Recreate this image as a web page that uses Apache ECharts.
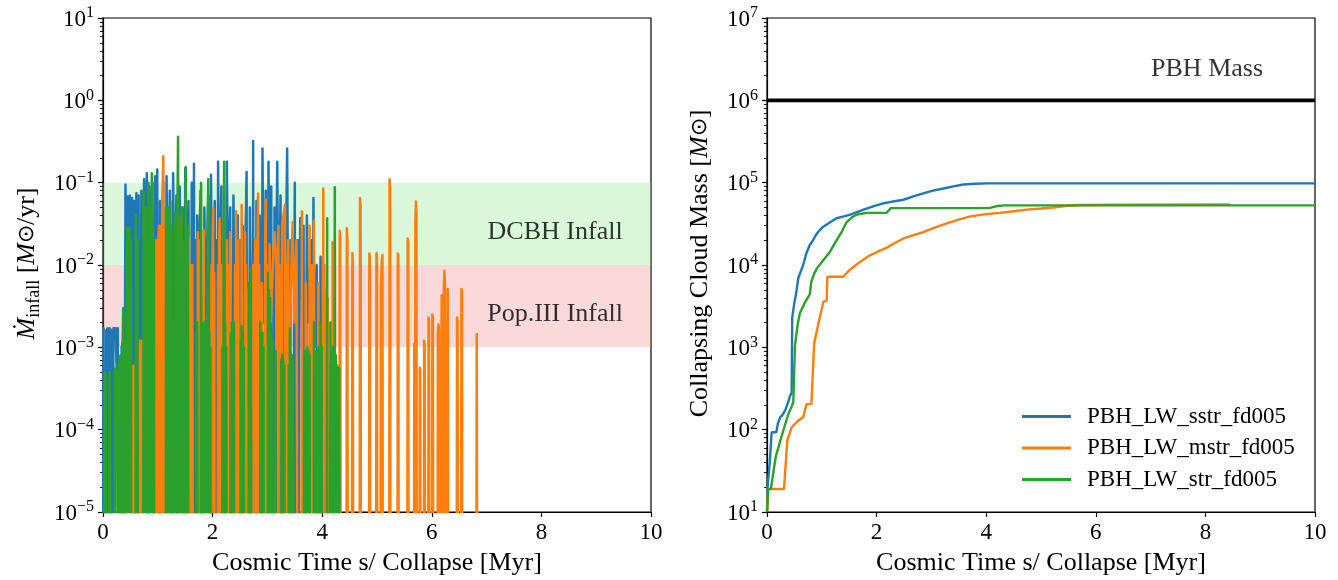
<!DOCTYPE html>
<html><head><meta charset="utf-8">
<script src="https://cdn.jsdelivr.net/npm/echarts@6/dist/echarts.min.js"></script>
<style>html,body{margin:0;padding:0;background:#fff}#c{width:1338px;height:580px}</style>
</head><body><div id="c"></div>
<script>
// ---------- data ----------
const seriesNames = ['PBH_LW_sstr_fd005', 'PBH_LW_mstr_fd005', 'PBH_LW_str_fd005'];
const seriesColors = ['#1f77b4', '#ff7f0e', '#2ca02c'];
const xTickValues = [0, 2, 4, 6, 8, 10];
const infallTickValues = [1e-5, 1e-4, 1e-3, 1e-2, 1e-1, 1, 10];
const massTickValues = [1e1, 1e2, 1e3, 1e4, 1e5, 1e6, 1e7];
const dcbhBand = [1e-2, 1e-1];
const pop3Band = [1e-3, 1e-2];
const pbhMass = 1e6;

// infall rate [Msun/yr] vs time [Myr]; 0 = no infall
const infallSstr = [[0,0],[0.01,1.7e-3],[0.03,1.7e-3],[0.04,0],[0.06,1.6e-3],[0.09,1.7e-3],[0.10,0],[0.12,1.7e-3],[0.15,1.6e-3],[0.17,0],[0.19,1.7e-3],[0.23,1.7e-3],[0.25,5e-4],[0.27,1.7e-3],[0.30,1.7e-3],[0.32,0],[0.34,1.0e-3],[0.37,1.2e-3],[0.39,0],
[0.40,5e-4],[0.41,0.095],[0.42,6e-4],[0.43,0.002],[0.44,5e-4],[0.45,0.068],[0.46,6e-4],[0.47,0.004],[0.48,5e-4],[0.49,0.07],[0.50,6e-4],[0.51,0.003],[0.52,5e-4],[0.53,0.065],[0.55,0],[0.57,0.06],[0.59,0.01],[0.61,0.075],[0.63,0.002],[0.65,0.07],[0.67,0],[0.70,0.08],[0.72,0.001],[0.75,0.11],[0.77,0.003],[0.80,0.13],[0.82,0],[0.85,0.09],[0.87,0.002],[0.90,0.1],[0.92,0],[0.95,0.12],[0.97,0.005],[0.99,0.145],[1.01,0],[1.04,0.06],[1.06,0.004],[1.10,0.1],[1.12,0],[1.16,0.12],[1.18,0.003],[1.22,0.08],[1.24,0],[1.28,0.13],[1.30,0.002],[1.34,0.07],[1.36,0],[1.40,0.09],[1.42,0.003],[1.46,0.05],[1.47,0],[1.48,0.01],[1.49,0],[1.50,0.15],[1.52,0.004],[1.56,0.06],[1.58,0],[1.62,0.1],[1.63,0],[1.64,0.01],[1.65,0],[1.66,0.17],[1.67,0],[1.68,0.02],[1.69,0],[1.72,0.04],[1.74,0.003],[1.78,0.08],[1.80,0],[1.85,0.05],[1.87,0.002],[1.92,0.07],[1.94,0],[1.97,0.125],[1.99,0.003],[2.04,0.06],[2.05,0],[2.06,0.01],[2.07,0],[2.08,0.02],[2.09,0],[2.10,0.18],[2.12,0.002],[2.16,0.09],[2.18,0],[2.26,0.18],[2.28,0.003],[2.32,0.05],[2.34,0],[2.38,0.07],[2.40,0.002],[2.46,0.04],[2.47,0],[2.48,0.01],[2.49,0],[2.50,0.02],[2.51,0],[2.55,0.03],[2.57,0.001],[2.62,0.135],[2.64,0],[2.68,0.05],[2.70,0.002],[2.71,0],[2.72,0.01],[2.73,0],[2.74,0.32],[2.75,0],[2.76,0.02],[2.77,0],[2.78,0.01],[2.79,0],[2.80,0.06],[2.82,0.003],[2.86,0.04],[2.88,0],[2.91,0.26],[2.93,0.002],[2.97,0.08],[2.99,0],[3.02,0.18],[3.04,0.003],[3.07,0.09],[3.09,0],[3.13,0.05],[3.15,0.001],[3.18,0.18],[3.20,0.0008],[3.24,0.07],[3.26,0],[3.30,0.04],[3.32,0.001],[3.36,0.26],[3.38,0.0008],[3.42,0.02],[3.44,0],[3.50,0.1],[3.51,0],[3.52,0.01],[3.53,0],[3.54,0.02],[3.55,0],[3.56,0.02],[3.57,0],[3.58,0.0009],[3.60,0.037],[3.62,0.004],[3.66,0.03],[3.68,0],[3.72,0.04],[3.74,0.002],[3.80,0.02],[3.82,0],[3.84,0.065],[3.86,0.001],[3.90,0.01],[3.92,0],[3.97,0.0126],[3.99,0],[4.10,0],[4.11,6e-4],[4.12,0]];

const infallMstr = [[0.36,0],[0.37,1.1e-3],[0.38,0],
[0.53,0],[0.54,6e-4],[0.55,0],[0.56,5e-4],[0.57,0],[0.58,6e-4],[0.59,0],
[0.64,0],[0.65,1.2e-3],[0.66,0],[0.67,1.2e-3],[0.68,0],[0.69,1e-3],[0.70,0],[0.71,1.2e-3],[0.72,0],
[0.81,0],[0.82,5e-4],[0.83,0],
[0.95,0],[0.96,0.01],[0.97,0.02],[0.98,0],[0.99,0.001],[1.00,0],[1.01,0.02],[1.02,0.03],[1.03,0],[1.04,0.01],[1.05,0],[1.06,0.03],[1.07,0],[1.08,0.05],[1.10,0.21],[1.11,0],[1.12,0.03],[1.13,0],[1.14,0.02],[1.15,0],
[1.17,0],[1.18,6e-4],[1.19,0],[1.27,0],[1.28,6e-4],[1.29,0],[1.34,0],[1.35,0.004],[1.36,0],[1.42,0],[1.43,0.037],[1.44,0],[1.49,0],[1.50,0.01],[1.51,0],
[1.56,0],[1.57,0.022],[1.58,0],[1.59,0.01],[1.60,0],[1.61,0.004],[1.62,0],[1.63,0.01],[1.64,0],
[1.72,0],[1.73,0.025],[1.74,0],[1.75,0.01],[1.76,0],[1.77,0.02],[1.78,0],[1.79,0.004],[1.80,0],[1.83,0],[1.84,0.0265],[1.85,0],
[1.97,0],[1.98,0.01],[1.99,0],[2.00,0.02],[2.01,0.049],[2.02,0],[2.03,0.008],[2.04,0],
[2.09,0],[2.10,0.01],[2.11,0],[2.12,0.02],[2.13,0.037],[2.14,0],[2.15,0.004],[2.16,0],[2.17,0.01],[2.18,0],
[2.25,0],[2.26,0.02],[2.27,0],[2.28,0.005],[2.29,0],[2.30,0.01],[2.31,0],[2.32,0.025],[2.33,0],
[2.40,0],[2.41,0.01],[2.42,0],[2.43,0.045],[2.44,0],[2.45,0.01],[2.46,0],[2.47,0.02],[2.48,0],[2.52,0],[2.53,0.054],[2.54,0],
[2.58,0],[2.59,0.025],[2.60,0],[2.61,0.01],[2.62,0],[2.63,0.005],[2.64,0],[2.65,0.003],[2.66,0],
[2.73,0],[2.74,0.01],[2.76,0.003],[2.78,0.02],[2.79,0],[2.80,0.01],[2.81,0],[2.82,0.02],[2.83,0.074],[2.84,0],[2.85,0.01],[2.86,0],
[2.89,0],[2.90,0.006],[2.91,0],[2.95,0],[2.96,0.02],[2.97,0.062],[2.98,0],[2.99,0.01],[3.00,0],
[3.03,0],[3.04,0.018],[3.06,0.002],[3.10,0.01],[3.13,0.025],[3.16,0.012],[3.17,0],[3.18,0.01],[3.19,0],[3.20,0.03],[3.21,0],[3.22,0.01],[3.23,0.01],[3.24,0],[3.27,0.03],[3.32,0.054],[3.33,0],[3.34,0.01],[3.35,0.004],[3.36,0],[3.37,0.01],[3.38,0.02],[3.39,0],[3.42,0.003],[3.46,0.033],[3.49,0.002],[3.53,0.02],[3.56,0],[3.62,0],[3.63,0.045],[3.64,0],
[3.69,0],[3.70,0.006],[3.72,0],[3.76,0],[3.77,0.03],[3.78,0],[3.79,0.01],[3.80,0],[3.81,0.005],[3.82,0],[3.83,0.01],[3.84,0],[3.85,0.035],[3.86,0],
[3.92,0],[3.93,0.006],[3.94,0],[4.01,0],[4.02,0.085],[4.03,0],[4.04,0.01],[4.05,0],[4.06,0.005],[4.07,0],
[4.09,0],[4.10,0.004],[4.11,0],[4.18,0],[4.19,0.019],[4.20,0],
[4.31,0],[4.32,0.026],[4.33,0.02],[4.34,0],
[4.44,0],[4.45,0.028],[4.46,0.02],[4.47,0],
[4.54,0],[4.55,0.014],[4.56,0.012],[4.57,0],
[4.68,0],[4.69,0.065],[4.70,0.05],[4.71,0],
[4.85,0],[4.86,0.0138],[4.87,0.013],[4.88,0],
[4.98,0],[4.99,0.014],[5.00,0.013],[5.01,0],
[5.06,0],[5.07,0.005],[5.09,0.012],[5.10,0.0132],[5.11,0],
[5.22,0],[5.23,0.11],[5.24,0.09],[5.25,0],
[5.37,0],[5.38,0.0138],[5.39,0.013],[5.40,0],
[5.55,0],[5.56,0.021],[5.57,0.019],[5.58,0],
[5.67,0],[5.68,1.1e-3],[5.69,0],[5.70,0.03],[5.71,0.059],[5.72,0.04],[5.73,0],
[5.77,0],[5.78,5.7e-4],[5.79,5e-4],[5.80,0],
[5.85,0],[5.86,1.2e-3],[5.87,1.1e-3],[5.88,0],
[5.93,0],[5.94,2.3e-3],[5.95,2.1e-3],[5.96,0],
[6.00,0],[6.01,2.5e-3],[6.02,2.3e-3],[6.03,0],
[6.10,0],[6.11,1.5e-3],[6.12,1.9e-3],[6.13,1.7e-3],[6.14,0],
[6.17,0],[6.18,4.3e-3],[6.19,4.3e-3],[6.20,0],[6.21,1e-3],[6.22,5e-3],[6.23,8.5e-3],[6.24,6e-3],[6.25,0],
[6.28,0],[6.29,5.1e-3],[6.30,5e-3],[6.31,0],
[6.45,0],[6.46,2.3e-3],[6.47,2.1e-3],[6.48,2e-3],[6.49,0],
[6.53,0],[6.54,5.1e-3],[6.55,4.8e-3],[6.56,0],
[6.81,0],[6.82,1.45e-3],[6.83,1.4e-3],[6.84,0]];

const infallStr = [[0,0],[0.02,0],[0.03,5e-4],[0.05,4.5e-4],[0.06,0],[0.10,0],[0.12,5e-4],[0.15,5e-4],[0.16,0],[0.20,0],[0.22,5.5e-4],[0.26,5e-4],[0.27,0],[0.29,6e-4],[0.32,8e-4],[0.33,0],[0.35,7e-4],[0.37,3e-3],[0.39,0],
[0.41,1.2e-3],[0.42,0],[0.43,0.01],[0.44,0.028],[0.45,0],[0.46,0.012],[0.47,0],[0.48,0.028],[0.49,0.015],[0.50,0],[0.51,0.02],[0.52,0],
[0.59,0],[0.60,0.04],[0.61,0.015],[0.62,0],[0.63,0.02],[0.64,0],
[0.73,0],[0.74,0.078],[0.75,0],[0.76,0.03],[0.77,0],[0.78,0.05],[0.79,0],[0.80,0.02],[0.81,0],[0.83,0.1],[0.84,0],[0.85,0.03],[0.86,0],[0.87,0.05],[0.88,0],[0.89,0.13],[0.90,0],[0.91,0.03],[0.92,0],[0.93,0.02],[0.94,0],
[1.14,0],[1.15,0.05],[1.16,0],[1.17,0.03],[1.18,0.05],[1.19,0],[1.20,0.04],[1.21,0],[1.23,0.06],[1.24,0],[1.25,0.03],[1.26,0],[1.28,0],[1.29,0.002],[1.30,0],[1.31,0.04],[1.32,0],[1.33,0.002],[1.34,0],[1.35,0.01],[1.37,0.36],[1.38,0],[1.39,0.04],[1.40,0],[1.43,0],[1.44,0.05],[1.45,0],[1.46,0.02],[1.47,0],[1.48,0.01],[1.49,0],[1.51,0.155],[1.52,0],[1.53,0.002],[1.54,0],[1.55,0.03],[1.56,0],
[1.69,0],[1.70,0.0015],[1.71,0],[1.72,0.002],[1.73,0],
[1.78,0],[1.79,0.1],[1.80,0],[1.81,0.002],[1.82,0],[1.83,0.0015],[1.84,0],[1.85,0.002],[1.86,0],[1.87,0.0012],[1.88,0],[1.89,0.002],[1.90,0],[1.91,0.01],[1.92,0.11],[1.93,0],[1.94,0.0015],[1.95,0],[1.96,0.001],[1.97,0],
[2.17,0],[2.18,0.001],[2.19,0],[2.20,0.01],[2.21,0.18],[2.22,0],[2.23,0.002],[2.24,0],[2.25,0.001],[2.26,0],
[2.32,0],[2.33,0.0015],[2.34,0],[2.35,0.002],[2.36,0],[2.37,0.0015],[2.38,0],[2.39,0.002],[2.40,0],
[2.50,0],[2.51,0.0012],[2.52,0],[2.53,0.0018],[2.54,0],[2.55,0.0015],[2.56,0],[2.57,0.001],[2.58,0],
[2.65,0],[2.66,0.006],[2.67,0],[2.68,0.004],[2.69,0],[2.70,0.009],[2.71,0],
[2.86,0],[2.87,0.002],[2.88,0],[2.89,0.001],[2.90,0],[2.91,0.0015],[2.92,0],[2.93,0.001],[2.94,0],
[3.00,0],[3.01,0.008],[3.02,0],[3.03,0.005],[3.04,0],[3.05,0.004],[3.06,0],[3.07,0.0015],[3.08,0],[3.09,0.0012],[3.10,0],
[3.14,0],[3.15,0.0009],[3.16,0],
[3.24,0],[3.25,0.0007],[3.26,0],[3.27,0.0008],[3.28,0],[3.29,0.0007],[3.30,0],[3.31,0.0006],[3.32,0],
[3.38,0],[3.39,0.0006],[3.40,0],[3.41,0.0017],[3.42,0],[3.43,0.0007],[3.44,0],[3.45,0.0008],[3.46,0],[3.47,0.0007],[3.48,0],
[3.66,0],[3.67,0.0008],[3.68,0],[3.69,0.0009],[3.70,0],[3.71,0.0008],[3.72,0],[3.73,0.001],[3.74,0],[3.75,0.0009],[3.76,0],[3.77,0.0008],[3.78,0],
[3.84,0],[3.85,0.002],[3.86,0],[3.87,0.0009],[3.88,0],[3.89,0.0008],[3.90,0],[3.91,0.0009],[3.92,0],[3.93,0.001],[3.94,0],[3.95,0.0008],[3.96,0],[3.97,0.002],[3.98,0],[3.99,0.001],[4.00,0],
[4.08,0],[4.09,0.037],[4.10,0],
[4.14,0],[4.15,0.002],[4.16,0],[4.17,0.001],[4.18,0],[4.19,0.0008],[4.20,0],[4.21,0.001],[4.22,0],[4.23,0.088],[4.24,0],[4.25,0.0008],[4.26,0],[4.27,0.0006],[4.28,0],[4.29,5.6e-4],[4.30,0],[4.31,5.6e-4],[4.32,5.6e-4],[4.33,0]];

// collapsing cloud mass [Msun] vs time [Myr]
const massSstr = [[0,10],[0.01,20],[0.05,40],[0.085,93],[0.17,93],[0.2,120],[0.24,141],[0.28,150],[0.33,170],[0.38,210],[0.42,257],[0.45,280],[0.46,2300],[0.5,3500],[0.53,4400],[0.57,6900],[0.62,8500],[0.66,1.0e4],[0.72,1.4e4],[0.78,1.75e4],[0.84,2.0e4],[0.89,2.3e4],[0.95,2.6e4],[1.02,2.9e4],[1.09,3.1e4],[1.18,3.4e4],[1.27,3.7e4],[1.4,3.9e4],[1.52,4.1e4],[1.64,4.4e4],[1.76,4.7e4],[1.95,5.2e4],[2.12,5.6e4],[2.3,5.9e4],[2.49,6.2e4],[2.67,6.8e4],[2.85,7.4e4],[3.03,8.0e4],[3.22,8.5e4],[3.4,9.0e4],[3.58,9.5e4],[3.8,9.7e4],[4.01,9.8e4],[10,9.8e4]];
const massMstr = [[0,10],[0.02,19],[0.31,19],[0.37,74],[0.45,107],[0.57,129],[0.66,141],[0.72,204],[0.81,204],[0.86,1100],[0.91,1600],[1.03,3600],[1.09,3700],[1.10,7200],[1.39,7200],[1.5,8600],[1.62,1.0e4],[1.75,1.15e4],[1.87,1.3e4],[2.02,1.45e4],[2.17,1.6e4],[2.33,1.85e4],[2.49,2.1e4],[2.67,2.3e4],[2.85,2.5e4],[3.06,2.85e4],[3.28,3.2e4],[3.5,3.55e4],[3.71,3.9e4],[4.0,4.15e4],[4.25,4.3e4],[4.5,4.5e4],[4.74,4.7e4],[5.0,4.85e4],[5.22,5.0e4],[5.45,5.2e4],[5.71,5.35e4],[6.5,5.4e4],[8.45,5.45e4]];
const massStr = [[0,10],[0.02,19],[0.07,19],[0.16,47],[0.27,85],[0.39,155],[0.48,214],[0.51,1050],[0.56,1900],[0.60,2600],[0.69,3500],[0.72,3600],[0.78,4400],[0.81,6300],[0.86,7800],[0.91,9100],[1.03,1.15e4],[1.15,1.45e4],[1.25,1.9e4],[1.36,2.5e4],[1.45,3.3e4],[1.55,3.8e4],[1.64,4.1e4],[1.82,4.3e4],[2.18,4.3e4],[2.26,4.9e4],[4.05,4.9e4],[4.2,5.2e4],[4.35,5.3e4],[10,5.3e4]];

// ---------- chart ----------
const FONT = '"Liberation Serif", "Times New Roman", serif';
const ZERO_ON_LOG = 1e-9; // zero rates are drawn off the bottom of the log axis
const toLog = arr => arr.map(p => [p[0], p[1] > 0 ? p[1] : ZERO_ON_LOG]);

function minorTicks(lo, hi) {
  const out = [];
  for (let d = lo; d < hi; d++) for (let k = 2; k <= 9; k++) out.push(+(k * Math.pow(10, d)).toPrecision(3));
  return out;
}
const supLabel = v => {
  const e = Math.round(Math.log10(v));
  return '{b|10}{e|' + (e < 0 ? '\u2212' + (-e) : e) + '}';
};
const tickRich = {
  b: { fontFamily: FONT, fontSize: 23, color: '#000', lineHeight: 26, padding: [8, 0, 0, 0], verticalAlign: 'bottom' },
  e: { fontFamily: FONT, fontSize: 16, color: '#000', lineHeight: 22, verticalAlign: 'top' }
};
const axisLineStyle = { color: '#000', width: 1.2 };

function logAxes(gridIndex, min, max, ticks) {
  return [{
    type: 'log', logBase: 10, gridIndex, min, max, splitNumber: ticks.length - 1,
    axisLine: { show: true, lineStyle: axisLineStyle },
    axisTick: { show: true, length: 5, lineStyle: axisLineStyle, customValues: ticks },
    axisLabel: { show: true, margin: 9, formatter: supLabel, rich: tickRich, customValues: ticks },
    splitLine: { show: false }
  }, {
    type: 'log', logBase: 10, gridIndex, min, max, position: 'left',
    axisLine: { show: false },
    axisTick: { show: true, length: 3, lineStyle: { color: '#000', width: 0.9 },
      customValues: minorTicks(Math.round(Math.log10(min)), Math.round(Math.log10(max))) },
    axisLabel: { show: false },
    splitLine: { show: false }
  }];
}
function xAxis(gridIndex) {
  return {
    type: 'value', gridIndex, min: 0, max: 10, interval: 2,
    axisLine: { show: true, lineStyle: axisLineStyle, onZero: false },
    axisTick: { show: true, length: 5, lineStyle: axisLineStyle },
    axisLabel: { fontFamily: FONT, fontSize: 23, color: '#000', margin: 9,
      customValues: xTickValues },
    splitLine: { show: false }
  };
}
const gridBox = { show: true, borderColor: '#000', borderWidth: 1.2, backgroundColor: 'transparent', containLabel: false };

const labelText = (txt, size) => ({ show: true, formatter: txt, fontFamily: FONT, fontSize: size, color: '#000' });

const series = [];
// bands
series.push({
  type: 'line', xAxisIndex: 0, yAxisIndex: 0, data: [], silent: true, z: 1,
  markArea: {
    silent: true,
    data: [
      [{ yAxis: dcbhBand[0], itemStyle: { color: 'rgba(144,238,144,0.33)' } }, { yAxis: dcbhBand[1] }],
      [{ yAxis: pop3Band[0], itemStyle: { color: 'rgba(240,128,128,0.3)' } }, { yAxis: pop3Band[1] }]
    ]
  }
});
[infallSstr, infallMstr, infallStr].forEach((d, i) => series.push({
  name: seriesNames[i], type: 'line', xAxisIndex: 0, yAxisIndex: 0, data: toLog(d),
  showSymbol: false, symbol: 'none', clip: true, z: 2 + i,
  lineStyle: { color: seriesColors[i], width: 2.5, join: 'round' }, itemStyle: { color: seriesColors[i] }
}));
// band labels
series.push({
  type: 'scatter', xAxisIndex: 0, yAxisIndex: 0, symbolSize: 0, silent: true, z: 10,
  data: [
    { value: [8.25, 0.025], label: labelText('DCBH Infall', 26) },
    { value: [8.25, 0.0025], label: labelText('Pop.III Infall', 26) }
  ],
  label: { position: 'inside' }
});
// right panel
series.push({
  type: 'line', xAxisIndex: 1, yAxisIndex: 2, data: [[0, pbhMass], [10, pbhMass]],
  showSymbol: false, symbol: 'none', z: 2, lineStyle: { color: '#000', width: 3.6 }
});
[massSstr, massMstr, massStr].forEach((d, i) => series.push({
  name: seriesNames[i], type: 'line', xAxisIndex: 1, yAxisIndex: 2, data: d,
  showSymbol: false, symbol: 'none', clip: true, z: 3 + i,
  lineStyle: { color: seriesColors[i], width: 2.4 }, itemStyle: { color: seriesColors[i] }
}));
series.push({
  type: 'scatter', xAxisIndex: 1, yAxisIndex: 2, symbolSize: 0, silent: true, z: 10,
  data: [{ value: [8.03, 2.4e6], label: labelText('PBH Mass', 26) }],
  label: { position: 'inside' }
});

const titleRich = {
  n: { fontFamily: FONT, fontSize: 26, color: '#000', lineHeight: 32 },
  i: { fontFamily: FONT, fontSize: 26, fontStyle: 'italic', color: '#000', lineHeight: 32 },
  o: { fontFamily: FONT, fontSize: 22, color: '#000', lineHeight: 32 },
  s: { fontFamily: FONT, fontSize: 18, color: '#000', lineHeight: 18, verticalAlign: 'bottom' }
};
const titleText = (x, y, text, rot) => ({
  type: 'text', x, y, rotation: rot, silent: true, z: 100,
  style: { text, rich: titleRich, fontFamily: FONT, fontSize: 26, fill: '#000', align: 'center', verticalAlign: 'middle' }
});

const option = {
  animation: false,
  backgroundColor: '#fff',
  textStyle: { fontFamily: FONT },
  grid: [
    Object.assign({ left: 103, top: 15, width: 548, height: 497 }, gridBox),
    Object.assign({ left: 767, top: 15, width: 548, height: 497 }, gridBox)
  ],
  xAxis: [xAxis(0), xAxis(1)],
  yAxis: [...logAxes(0, 1e-5, 10, infallTickValues), ...logAxes(1, 10, 1e7, massTickValues)],
  legend: {
    data: seriesNames.map(n => ({ name: n })),
    orient: 'vertical', left: 1017, top: 400, itemWidth: 49, itemHeight: 3, itemGap: 8.5, icon: 'rect',
    textStyle: { fontFamily: FONT, fontSize: 23, color: '#000', lineHeight: 22, padding: [0, 0, 0, 11] },
    selectedMode: false
  },
  series,
  graphic: [
    titleText(27, 263.5, '{i|\u1E40}{s|infall}{n| [}{i|M}{o|\u2299}{n|/yr]}', Math.PI / 2),
    titleText(700, 263.5, '{n|Collapsing Cloud Mass [}{i|M}{o|\u2299}{n|]}', Math.PI / 2),
    titleText(377, 563, '{n|Cosmic Time s/ Collapse [Myr]}', 0),
    titleText(1041, 563, '{n|Cosmic Time s/ Collapse [Myr]}', 0)
  ]
};
const chart = echarts.init(document.getElementById('c'), null, { renderer: 'canvas' });
chart.setOption(option);
</script></body></html>
